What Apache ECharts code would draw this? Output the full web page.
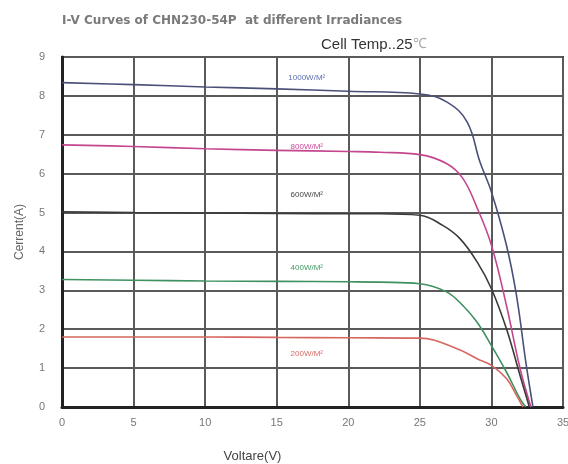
<!DOCTYPE html>
<html>
<head>
<meta charset="utf-8">
<script src="https://cdn.jsdelivr.net/npm/echarts@6/dist/echarts.min.js"></script>
<style>
  html, body { margin: 0; padding: 0; background: #fff; }
  #chart { width: 568px; height: 464px; }
</style>
</head>
<body>
<div id="chart"></div>
<script>
// axis ticks
const xTicks = [0, 5, 10, 15, 20, 25, 30, 35]
const yTicks = [0, 1, 2, 3, 4, 5, 6, 7, 8, 9]

// irradiance curves, voltage (V) / current (A)
const v1000 = [0, 5, 10, 15, 20, 25, 26.9, 28.3, 29.2, 30.0, 31.05, 31.75, 32.4, 32.9]
const i1000 = [8.34, 8.29, 8.23, 8.18, 8.12, 8.05, 7.84, 7.33, 6.3, 5.53, 4.16, 2.87, 1.16, 0]

const v800 = [0, 5, 10, 15, 20, 22.2, 25, 26.86, 28.0, 29.0, 30.0, 31.05, 32.0, 32.76]
const i800 = [6.74, 6.7, 6.64, 6.6, 6.57, 6.55, 6.49, 6.26, 5.88, 5.12, 4.16, 2.61, 0.99, 0]

const v600 = [0, 5, 10, 15, 20, 22.2, 25, 26.6, 27.8, 29.0, 30.0, 31.05, 32.0, 32.65]
const i600 = [5.02, 5.0, 4.99, 4.98, 4.97, 4.97, 4.93, 4.67, 4.33, 3.73, 3.04, 2.01, 0.81, 0]

const v400 = [0, 5, 10, 15, 20, 22.2, 25, 26.86, 28.0, 29.0, 30.0, 31.05, 32.0, 32.4]
const i400 = [3.28, 3.26, 3.24, 3.23, 3.22, 3.21, 3.17, 2.96, 2.61, 2.18, 1.58, 0.9, 0.21, 0]

const v200 = [0, 5, 10, 15, 20, 25, 27.6, 29.0, 30.0, 31.05, 31.75, 32.2]
const i200 = [1.8, 1.8, 1.8, 1.79, 1.78, 1.77, 1.5, 1.24, 1.07, 0.73, 0.3, 0]

const curveNames = ['1000W/M²', '800W/M²', '600W/M²', '400W/M²', '200W/M²']
const curveColors = ['#4b5078', '#c4468f', '#3a3a3a', '#3f9160', '#d5675f']
const labelColors = ['#5a70b0', '#c9479a', '#444444', '#3f9a62', '#d86a64']
// where each irradiance tag sits (V, A)
const labelAt = [[17.1, 8.46], [17.1, 6.7], [17.1, 5.46], [17.1, 3.57], [17.1, 1.36]]

const zip = (xs, ys) => xs.map((x, k) => [x, ys[k]])
const curves = [
  zip(v1000, i1000),
  zip(v800, i800),
  zip(v600, i600),
  zip(v400, i400),
  zip(v200, i200)
]

let chart = echarts.init(document.getElementById('chart'))

let series = curves.map((pts, k) => ({
  name: curveNames[k],
  type: 'line',
  smooth: 0.4,
  showSymbol: false,
  lineStyle: { color: curveColors[k], width: 1.6 },
  itemStyle: { color: curveColors[k] },
  data: pts,
  markPoint: {
    symbol: 'circle',
    symbolSize: 0,
    silent: true,
    label: {
      show: true,
      position: 'inside',
      formatter: curveNames[k],
      color: labelColors[k],
      fontSize: 8,
      fontFamily: 'Liberation Sans, Arial, sans-serif'
    },
    data: [{ coord: labelAt[k] }]
  }
}))

let option = {
  animation: false,
  backgroundColor: '#fff',
  title: [
    {
      text: 'I-V Curves of CHN230-54P  at different Irradiances',
      left: 57,
      top: 10,
      textStyle: {
        fontSize: 12,
        fontWeight: 'bold',
        color: '#7a7a7a',
        fontFamily: 'DejaVu Sans, sans-serif'
      }
    },
    {
      text: '{a|Cell Temp..25}{b|℃}',
      left: 316,
      top: 32,
      textStyle: {
        fontWeight: 'normal',
        rich: {
          a: { fontSize: 15, fontWeight: 'normal', color: '#333', fontFamily: 'Liberation Sans, Arial, sans-serif' },
          b: { fontSize: 14, fontWeight: 'normal', color: '#aaa', fontFamily: 'Liberation Sans, Arial, sans-serif' }
        }
      }
    }
  ],
  grid: {
    left: 62,
    right: 5,
    top: 57,
    bottom: 57,
    outerBoundsMode: 'none',
    show: true,
    borderColor: '#333',
    borderWidth: 2
  },
  xAxis: {
    type: 'value',
    min: xTicks[0],
    max: xTicks[xTicks.length - 1],
    interval: 5,
    name: 'Voltare(V)',
    nameLocation: 'middle',
    nameGap: 43,
    nameTextStyle: {
      fontSize: 13,
      color: '#444',
      padding: [0, 120, 0, 0],
      fontFamily: 'Liberation Sans, Arial, sans-serif'
    },
    axisLine: { show: true, lineStyle: { color: '#222', width: 3 } },
    axisTick: { show: false },
    axisLabel: { color: '#777', fontSize: 11, margin: 10, fontFamily: 'Liberation Sans, Arial, sans-serif' },
    splitLine: { show: true, lineStyle: { color: '#5a5a5a', width: 2 } }
  },
  yAxis: {
    type: 'value',
    min: yTicks[0],
    max: yTicks[yTicks.length - 1],
    interval: 1,
    name: 'Cerrent(A)',
    nameLocation: 'middle',
    nameGap: 36,
    nameTextStyle: {
      fontSize: 12,
      color: '#666',
      fontFamily: 'Liberation Sans, Arial, sans-serif'
    },
    axisLine: { show: true, lineStyle: { color: '#222', width: 3 } },
    axisTick: { show: false },
    axisLabel: { color: '#777', fontSize: 11, margin: 17, fontFamily: 'Liberation Sans, Arial, sans-serif' },
    splitLine: { show: true, lineStyle: { color: '#5a5a5a', width: 2 } }
  },
  series: series
}

chart.setOption(option)
</script>
</body>
</html>
